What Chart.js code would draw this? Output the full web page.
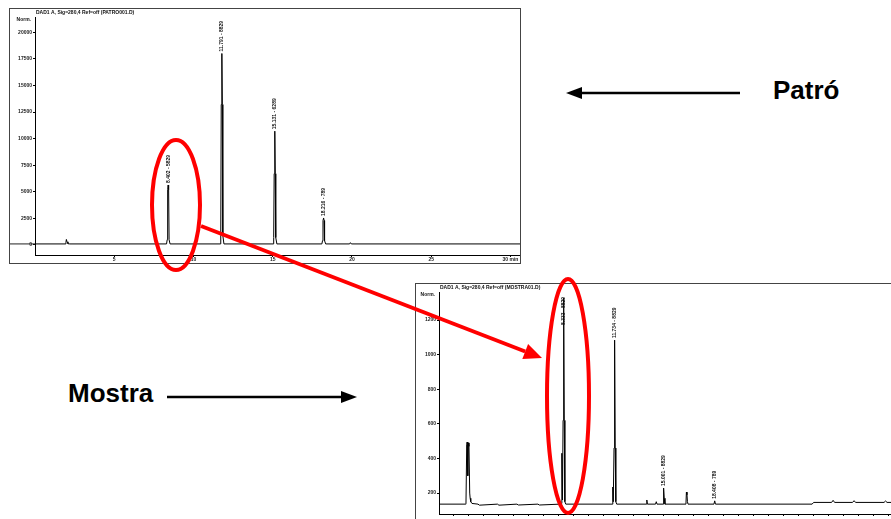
<!DOCTYPE html>
<html>
<head>
<meta charset="utf-8">
<script src="https://cdn.jsdelivr.net/npm/chart.js@4.4.1/dist/chart.umd.min.js"></script>
<style>
  html, body { margin: 0; padding: 0; background: #fff; }
  body { width: 891px; height: 519px; overflow: hidden; position: relative; font-family: "Liberation Sans", Arial, sans-serif; }
  .frame { position: absolute; border: 1px solid #444; background: #fff; }
  #topFrame { left: 9px; top: 8px; width: 510px; height: 254px; }
  #botFrame { left: 415px; top: 283px; width: 510px; height: 238px; }
  .frame canvas { display: block; }
  .tag { position: absolute; font-weight: bold; font-size: 26px; color: #000; line-height: 1; }
  #overlay { position: absolute; left: 0; top: 0; z-index: 5; pointer-events: none; }
</style>
</head>
<body>

<div class="frame" id="topFrame"><canvas id="topChart" width="510" height="254"></canvas></div>
<div class="frame" id="botFrame"><canvas id="botChart" width="510" height="238"></canvas></div>

<div class="tag" style="left:773px; top:77px;">Patró</div>
<div class="tag" style="left:68px; top:380px;">Mostra</div>

<canvas id="overlay" width="891" height="519"></canvas>

<script>
// ---- standard (Patró) chromatogram, time in min / signal in mAU ----
const topTime = [0, 1.9, 1.95, 1.98, 2.02, 2.08, 2.2,
  8.30, 8.34, 8.37, 8.40, 8.43, 8.46, 8.52,
  11.68, 11.72, 11.75, 11.79, 11.82, 11.85, 11.92,
  15.02, 15.06, 15.09, 15.13, 15.16, 15.19, 15.26,
  18.10, 18.14, 18.17, 18.21, 18.24, 18.27, 18.34,
  19.85, 19.90, 19.96, 30.6];
const topSignal = [100, 100, 250, 520, 300, 120, 100,
  100, 500, 5200, 5640, 5200, 500, 100,
  100, 900, 13200, 18000, 13200, 900, 100,
  100, 700, 6700, 10700, 6700, 700, 100,
  100, 400, 2300, 2540, 2300, 400, 100,
  100, 220, 100, 100];
const topXTicks = [5, 10, 15, 20, 25, 30];
const topYTicks = [0, 2500, 5000, 7500, 10000, 12500, 15000, 17500, 20000];
const topPeakTimes = [8.40, 11.79, 15.13, 18.21];
const topLabelBase = [5640, 18000, 10700, 2540];
const topPeakLabels = ['8.402 - 5829', '11.791 - 8829', '15.131 - 6289', '18.216 - 789'];

// ---- sample (Mostra) chromatogram ----
const botTime = [0, 1.75, 1.80, 1.85, 1.88, 1.92, 1.96, 2.00, 2.05, 2.08, 2.12, 2.2,
  2.6, 2.7, 3.9, 4.0, 5.2, 5.3, 6.6, 6.7,
  8.10, 8.16, 8.20, 8.24, 8.28, 8.31, 8.33, 8.36, 8.40, 8.46,
  11.55, 11.60, 11.63, 11.68, 11.71, 11.73, 11.76, 11.80, 11.86,
  13.83, 13.87, 13.91, 14.45, 14.50, 14.55,
  14.95, 14.98, 15.00, 15.03, 15.08,
  16.48, 16.51, 16.55, 16.58, 16.62,
  18.35, 18.40, 18.45,
  24.9, 25.0, 26.2, 26.3, 26.4, 27.6, 27.7, 27.8, 29.7, 29.8, 29.9, 33];
const botSignal = [136, 136, 140, 480, 495, 300, 490, 470, 200, 170, 150, 140,
  136, 130, 136, 130, 136, 131, 136, 131,
  136, 140, 430, 160, 620, 900, 1327, 620, 150, 136,
  136, 235, 150, 460, 800, 1084, 460, 150, 136,
  136, 160, 136, 136, 150, 136,
  136, 180, 229, 170, 136,
  136, 206, 190, 150, 136,
  136, 155, 136,
  136, 146, 146, 158, 146, 146, 156, 146, 146, 154, 146, 146];
const botXTicks = [1, 2, 3, 4, 5, 6, 7, 8, 9, 10, 11, 12, 13, 14, 15, 16, 17, 18, 19, 20,
  21, 22, 23, 24, 25, 26, 27, 28, 29, 30, 31, 32];
const botYTicks = [200, 400, 600, 800, 1000, 1200];
const botPeakTimes = [8.33, 11.73, 15.00, 18.40];
const botLabelBase = [1160, 1084, 229, 155];
const botPeakLabels = ['8.333 - 8829', '11.734 - 8829', '15.001 - 8829', '18.408 - 789'];

const tinyFont = { family: 'Liberation Sans, Arial, sans-serif', size: 5, weight: 'bold' };

// writes header, "Norm." and the vertical peak labels
const chromaText = {
  id: 'chromaText',
  afterDatasetsDraw(chart, args, opts) {
    const { ctx, chartArea, scales } = chart;
    ctx.save();
    ctx.fillStyle = '#111';
    ctx.font = 'bold 5px Liberation Sans, Arial, sans-serif';
    ctx.textBaseline = 'top';
    ctx.textAlign = 'left';
    ctx.fillText(opts.header, chartArea.left + 1, 1);
    ctx.textAlign = 'right';
    ctx.textBaseline = 'middle';
    ctx.fillText('Norm.', chartArea.left - 4, chartArea.top + 3);
    opts.times.forEach((t, i) => {
      const x = scales.x.getPixelForValue(t);
      const y = scales.y.getPixelForValue(opts.bases[i]);
      ctx.save();
      ctx.translate(x, y - 2);
      ctx.rotate(-Math.PI / 2);
      ctx.textAlign = 'left';
      ctx.textBaseline = 'middle';
      ctx.fillText(opts.labels[i], 0, 0);
      ctx.restore();
    });
    // baseline drawn past the y axis on the standard trace
    if (opts.leftBase !== null) {
      const yb = scales.y.getPixelForValue(opts.leftBase);
      ctx.strokeStyle = '#222';
      ctx.lineWidth = 1;
      ctx.beginPath();
      ctx.moveTo(0, yb);
      ctx.lineTo(chartArea.left, yb);
      ctx.stroke();
    }
    ctx.restore();
  }
};

function makeChromatogram(id, times, signal, cfg) {
  const pts = times.map((t, i) => ({ x: t, y: signal[i] }));
  return new Chart(document.getElementById(id), {
    type: 'line',
    data: {
      datasets: [{
        data: pts,
        borderColor: '#000',
        borderWidth: 1,
        pointRadius: 0,
        tension: 0,
        fill: false
      }]
    },
    options: {
      responsive: false,
      animation: false,
      layout: { padding: { top: 8, right: 0, left: 0, bottom: 0 } },
      plugins: {
        legend: { display: false },
        tooltip: { enabled: false },
        chromaText: cfg.text
      },
      scales: {
        x: {
          type: 'linear',
          min: cfg.xMin, max: cfg.xMax,
          afterBuildTicks: s => { s.ticks = cfg.xTicks.map(v => ({ value: v })); },
          afterFit: s => { s.height = 8; },
          border: { display: true, color: '#000', width: 1 },
          grid: { drawOnChartArea: false, drawTicks: true, tickLength: 2, color: '#000' },
          ticks: {
            color: '#222', font: tinyFont, padding: cfg.xPad, maxRotation: 0, autoSkip: false,
            callback: cfg.xLabel
          }
        },
        y: {
          min: cfg.yMin, max: cfg.yMax,
          afterBuildTicks: s => { s.ticks = cfg.yTicks.map(v => ({ value: v })); },
          afterFit: s => { s.width = cfg.yWidth; },
          border: { display: true, color: '#000', width: 1 },
          grid: { drawOnChartArea: false, drawTicks: true, tickLength: 2, color: '#000' },
          ticks: { color: '#222', font: tinyFont, padding: 1, callback: v => String(v) }
        }
      }
    },
    plugins: [chromaText]
  });
}

makeChromatogram('topChart', topTime, topSignal, {
  xMin: 0, xMax: 30.6, xTicks: topXTicks, xPad: 0,
  xLabel: v => (v === 30 ? '30 min' : String(v)),
  yMin: -940, yMax: 21430, yTicks: topYTicks, yWidth: 25,
  text: { header: 'DAD1 A, Sig=280,4 Ref=off (PATRO001.D)', times: topPeakTimes, bases: topLabelBase, labels: topPeakLabels, leftBase: 100 }
});

makeChromatogram('botChart', botTime, botSignal, {
  xMin: 0, xMax: 32.5, xTicks: botXTicks, xPad: 6,
  xLabel: v => (v % 5 === 0 ? String(v) : ''),
  yMin: 79, yMax: 1362, yTicks: botYTicks, yWidth: 23,
  text: { header: 'DAD1 A, Sig=280,4 Ref=off (MOSTRA01.D)', times: botPeakTimes, bases: botLabelBase, labels: botPeakLabels, leftBase: null }
});

// ---- annotations: ellipses and arrows ----
const ov = document.getElementById('overlay').getContext('2d');

function arrow(ctx, x1, y1, x2, y2, color, width, headLen, headHalf) {
  const a = Math.atan2(y2 - y1, x2 - x1);
  const bx = x2 - headLen * Math.cos(a), by = y2 - headLen * Math.sin(a);
  ctx.strokeStyle = color;
  ctx.fillStyle = color;
  ctx.lineWidth = width;
  ctx.beginPath();
  ctx.moveTo(x1, y1);
  ctx.lineTo(bx, by);
  ctx.stroke();
  ctx.beginPath();
  ctx.moveTo(x2, y2);
  ctx.lineTo(bx + headHalf * Math.sin(a), by - headHalf * Math.cos(a));
  ctx.lineTo(bx - headHalf * Math.sin(a), by + headHalf * Math.cos(a));
  ctx.closePath();
  ctx.fill();
}

ov.strokeStyle = '#ff0000';
ov.lineWidth = 4;
ov.beginPath();
ov.ellipse(176, 205, 24, 65, 0, 0, Math.PI * 2);
ov.stroke();
ov.beginPath();
ov.ellipse(568, 396, 21, 117, 0, 0, Math.PI * 2);
ov.stroke();

arrow(ov, 201, 226, 542, 358, '#ff0000', 4, 18, 8);
arrow(ov, 740, 93, 566, 93, '#000', 2.5, 16, 6);
arrow(ov, 167, 397, 357, 397, '#000', 2.5, 16, 6);
</script>
</body>
</html>
